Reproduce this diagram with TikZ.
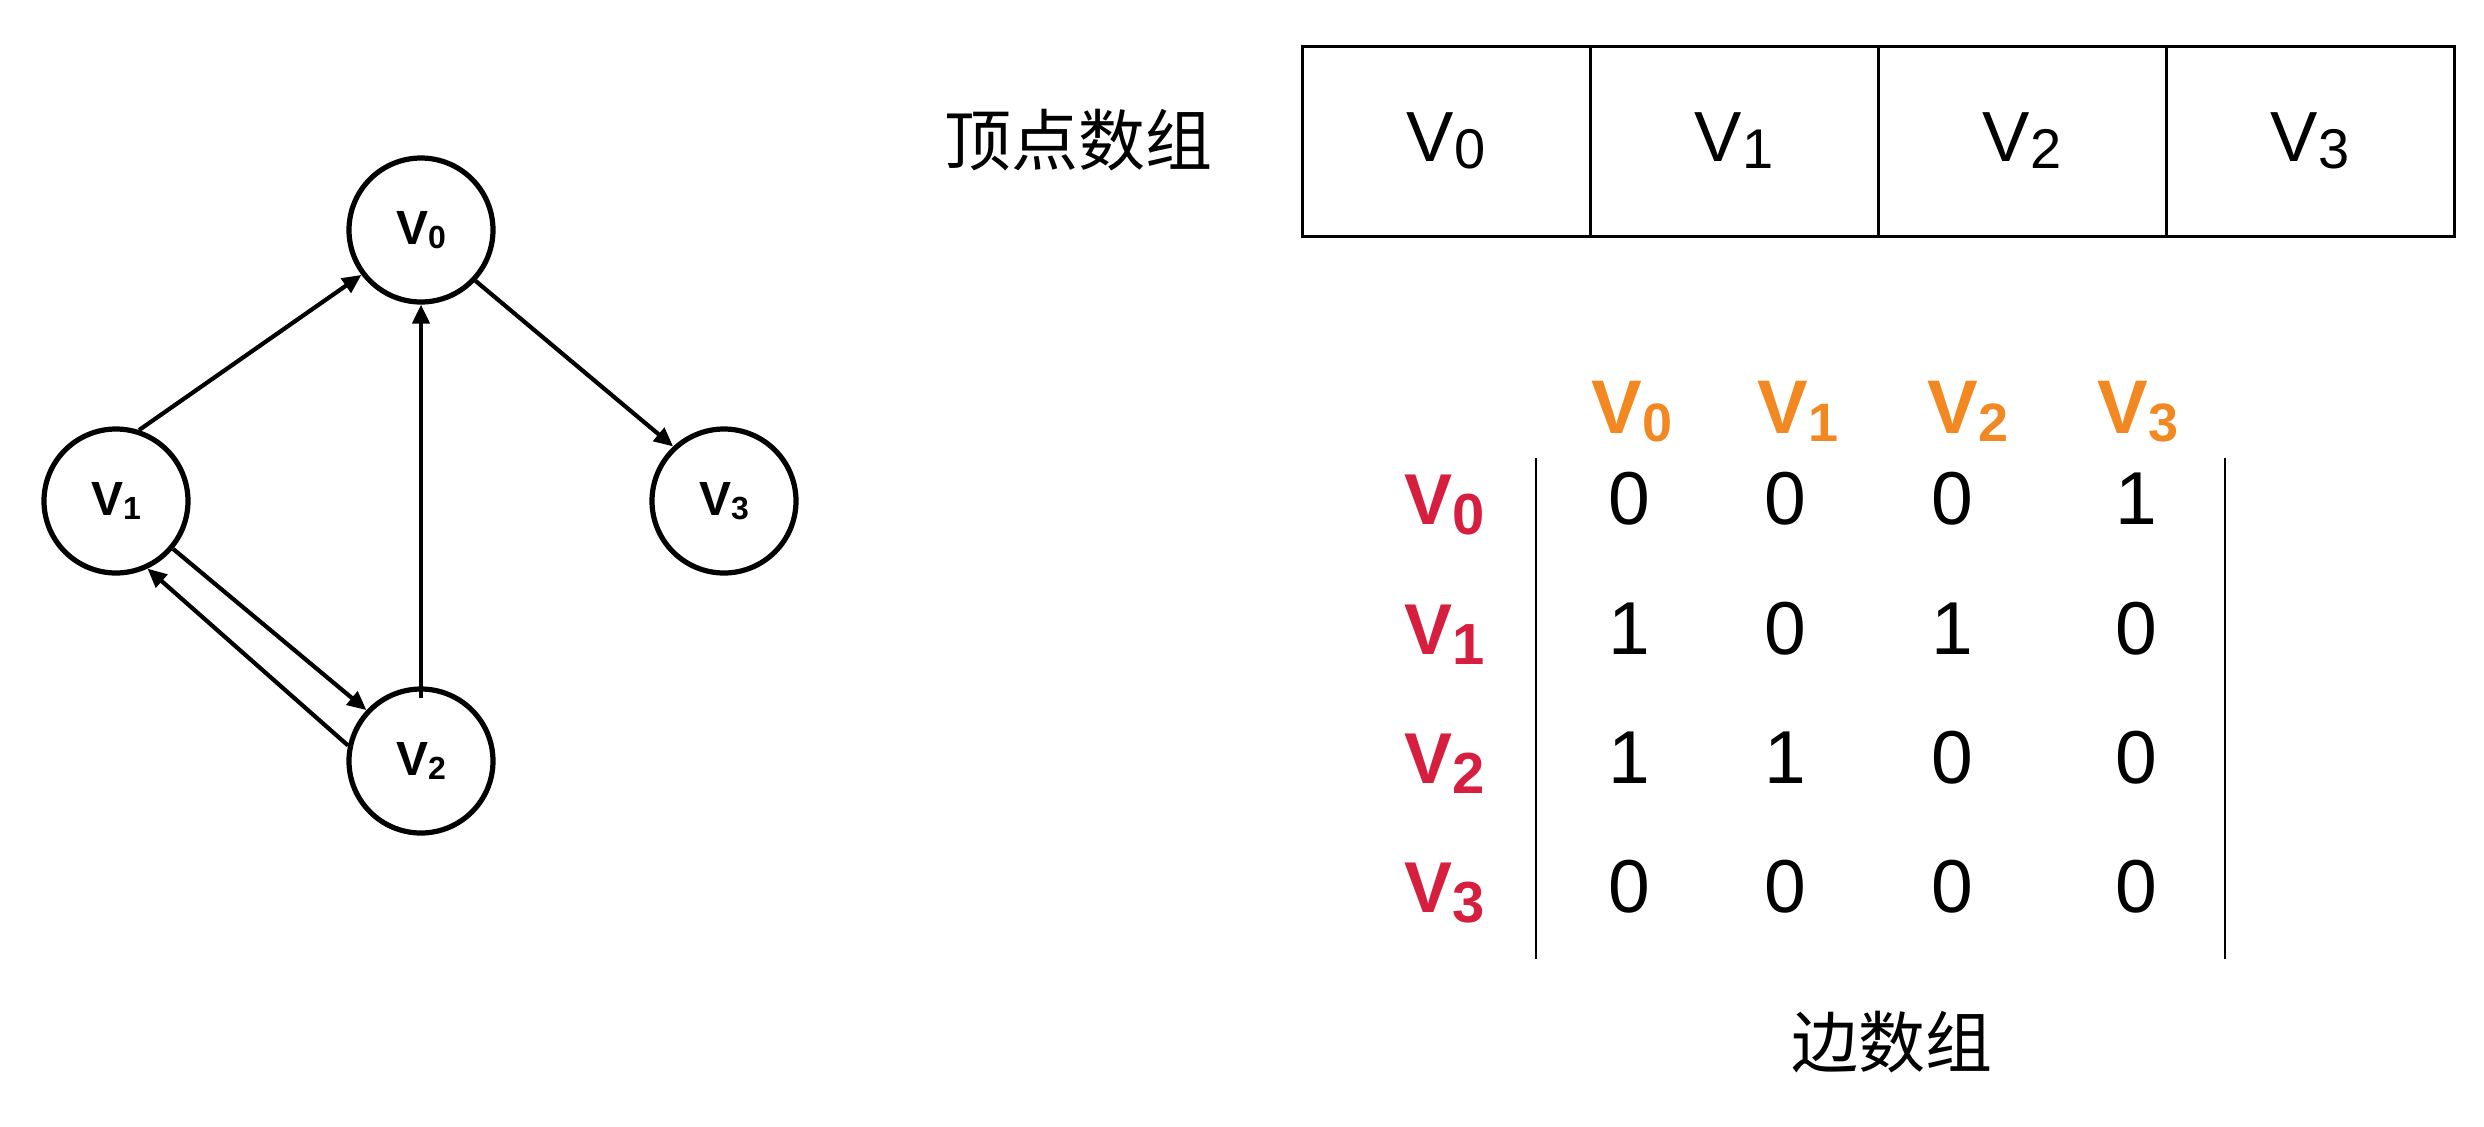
\documentclass[tikz,border=0pt]{standalone}
\usepackage{fontspec}
\setmainfont{Liberation Sans}
\newfontfamily\cjkfont{Noto Sans CJK SC}
\usetikzlibrary{arrows.meta}
\definecolor{hdrorange}{RGB}{242,136,34}
\definecolor{rowred}{RGB}{214,30,62}
% #1 size, #2 subscript size, #3 drop, #4 digit
\newcommand{\myV}[4]{{\fontsize{#1}{#1}\selectfont V\raisebox{-#3}{\fontsize{#2}{#2}\selectfont #4}}}
\begin{document}
\begin{tikzpicture}[x=0.5pt,y=-0.5pt,
  vtx/.style={circle,draw,line width=2.6pt,minimum size=72pt,inner sep=0pt,font=\bfseries},
  edge/.style={line width=2.1pt,-{Triangle[length=9.5pt,width=8.5pt]}},
  cell/.style={draw,line width=1.5pt,minimum width=144pt,minimum height=95pt,inner sep=0pt},
  hdr/.style={anchor=base,inner sep=0pt,text=hdrorange,font=\bfseries},
  rowl/.style={anchor=base,inner sep=0pt,text=rowred,font=\bfseries},
  entry/.style={anchor=base,inner sep=0pt,font=\fontsize{37.5pt}{37.5pt}\selectfont},
  cjk/.style={inner sep=0pt,font=\cjkfont\fontsize{33.5pt}{33.5pt}\selectfont},
  bar/.style={line width=1.25pt}]
\useasboundingbox (0,0) rectangle (2484,1126);
\fill[white] (0,0) rectangle (2484,1126);

% graph
\node[vtx] (V0) at (421,230) {\myV{24pt}{16pt}{1.8pt}{0}};
\node[vtx] (V1) at (116,501) {\myV{24pt}{16pt}{1.8pt}{1}};
\node[vtx] (V2) at (421,761) {\myV{24pt}{16pt}{1.8pt}{2}};
\node[vtx] (V3) at (724,501) {\myV{24pt}{16pt}{1.8pt}{3}};
\draw[edge] (V1.72) -- (V0.217);
\draw[edge] (V0.-43) -- (V3.133);
\draw[edge] ([yshift=-6pt]V2.north) -- (V0.south);
\draw[edge] (V1.-40) -- (V2.137);
\draw[edge] (V2.168) -- (V1.-65);

% vertex array
\node[cjk] (vlabel) at (1078,140) {顶点数组};
\node[cell] (c0) at (1446,141) {\myV{35.5pt}{28pt}{3.5pt}{0}};
\node[cell] (c1) at (1734,141) {\myV{35.5pt}{28pt}{3.5pt}{1}};
\node[cell] (c2) at (2022,141) {\myV{35.5pt}{28pt}{3.5pt}{2}};
\node[cell] (c3) at (2310,141) {\myV{35.5pt}{28pt}{3.5pt}{3}};

% edge matrix
\node[hdr] (h0) at (1632,433) {\myV{38pt}{27pt}{4pt}{0}};
\node[hdr] (h1) at (1798,433) {\myV{38pt}{27pt}{4pt}{1}};
\node[hdr] (h2) at (1968,433) {\myV{38pt}{27pt}{4pt}{2}};
\node[hdr] (h3) at (2138,433) {\myV{38pt}{27pt}{4pt}{3}};
\node[rowl] (r0) at (1445,524) {\myV{36pt}{29pt}{5pt}{0}};
\node[rowl] (r1) at (1445,654) {\myV{36pt}{29pt}{5pt}{1}};
\node[rowl] (r2) at (1445,783) {\myV{36pt}{29pt}{5pt}{2}};
\node[rowl] (r3) at (1445,912) {\myV{36pt}{29pt}{5pt}{3}};
\foreach \r/\yy/\a/\b/\c/\d in {0/524/0/0/0/1, 1/654/1/0/1/0, 2/783/1/1/0/0, 3/912/0/0/0/0}{
  \node[entry] (e\r-0) at (1629,\yy) {\a};
  \node[entry] (e\r-1) at (1785,\yy) {\b};
  \node[entry] (e\r-2) at (1952,\yy) {\c};
  \node[entry] (e\r-3) at (2136,\yy) {\d};
}
\coordinate (lt) at (1536,458);
\coordinate (lb) at (1536,959);
\coordinate (rt) at (2225,458);
\coordinate (rb) at (2225,959);
\draw[bar] (lt) -- (lb);
\draw[bar] (rt) -- (rb);
\node[cjk] (elabel) at (1892,1042) {边数组};
\end{tikzpicture}
\end{document}
